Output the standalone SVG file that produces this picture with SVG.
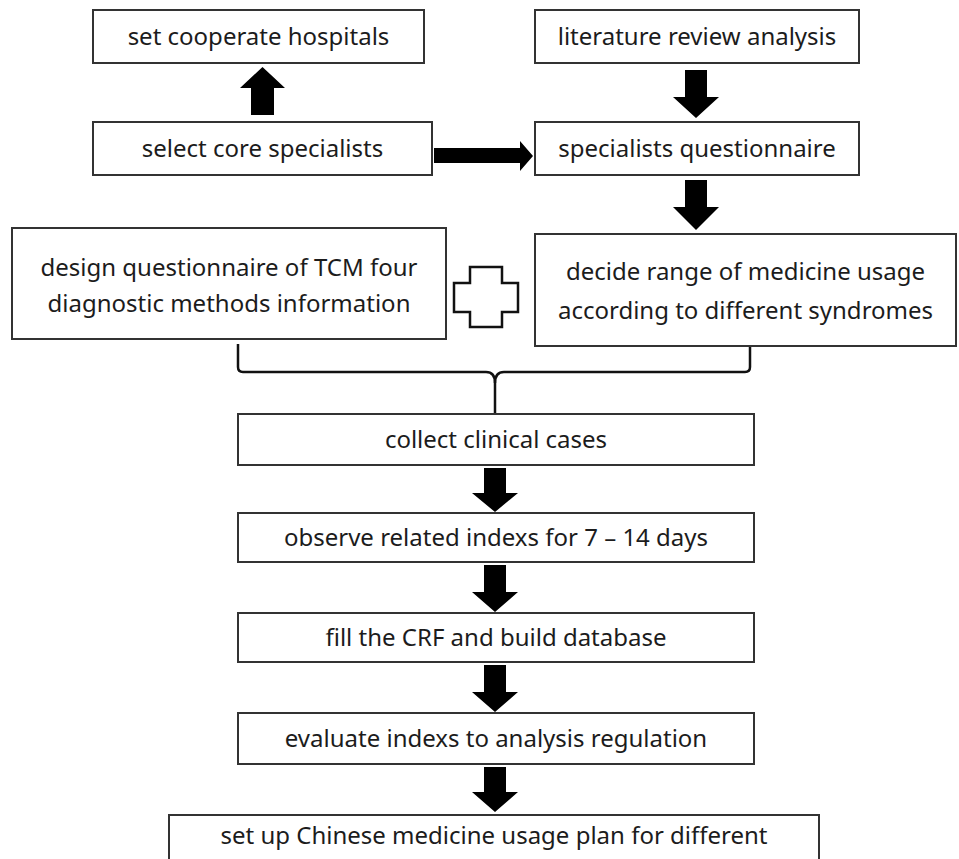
<svg xmlns="http://www.w3.org/2000/svg" width="959" height="859" viewBox="0 0 959 859">
<style>
.box{fill:#fff;stroke:#333;stroke-width:2}
.t{font-family:"Noto Sans","Open Sans","Liberation Sans",sans-serif;font-size:24px;fill:#1c1c1c;text-anchor:middle}
.arr{fill:#000}
.br{fill:none;stroke:#111;stroke-width:2.5}
</style>
<rect width="959" height="859" fill="#fff"/>
<g id="connectors">
<polygon class="arr" points="251,115 274,115 274,88 285,88 262.5,67 240,88 251,88"/>
<polygon class="arr" points="434,148 520,148 520,141 533,156 520,171 520,163 434,163"/>
<polygon class="arr" points="685,70 707,70 707,97 719,97 696,118 673,97 685,97"/>
<polygon class="arr" points="685,180 707,180 707,207 719,207 696,230 673,207 685,207"/>
<path class="br" d="M238,344 V367 Q238,372 243,372 H486 Q495,372 495,383 V413"/>
<path class="br" d="M750,344 V367 Q750,372 745,372 H504 Q495,372 495,383"/>
<polygon class="arr" points="484,468 506,468 506,493 518,493 495,512 472,493 484,493"/>
<polygon class="arr" points="484,565 506,565 506,592 518,592 495,612 472,592 484,592"/>
<polygon class="arr" points="484,665 506,665 506,692 518,692 495,712 472,692 484,692"/>
<polygon class="arr" points="484,767 506,767 506,792 518,792 495,812 472,792 484,792"/>
</g>
<g id="n_hospitals"><rect class="box" x="93" y="10" width="331" height="53"/><text class="t" x="258.5" y="45">set cooperate hospitals</text></g>
<g id="n_core"><rect class="box" x="93" y="122" width="339" height="53"/><text class="t" x="262.5" y="157">select core specialists</text></g>
<g id="n_literature"><rect class="box" x="535" y="10" width="324" height="53"/><text class="t" x="697" y="45">literature review analysis</text></g>
<g id="n_questionnaire"><rect class="box" x="535" y="122" width="324" height="53"/><text class="t" x="697" y="157">specialists questionnaire</text></g>
<g id="n_design"><rect class="box" x="12" y="228" width="434" height="111"/><text class="t" x="229" y="276">design questionnaire of TCM four</text><text class="t" x="229" y="312">diagnostic methods information</text></g>
<g id="plus"><path d="M470,267 H502 V283 H518 V312 H502 V327 H470 V312 H454 V283 H470 Z" fill="#fff" stroke="#111" stroke-width="2.5"/></g>
<g id="n_decide"><rect class="box" x="535" y="234" width="421" height="112"/><text class="t" x="745.5" y="280">decide range of medicine usage</text><text class="t" x="745.5" y="319">according to different syndromes</text></g>
<g id="n_collect"><rect class="box" x="238" y="414" width="516" height="51"/><text class="t" x="496" y="448">collect clinical cases</text></g>
<g id="n_observe"><rect class="box" x="238" y="513" width="516" height="49"/><text class="t" x="496" y="546">observe related indexs for 7 – 14 days</text></g>
<g id="n_fill"><rect class="box" x="238" y="613" width="516" height="49"/><text class="t" x="496" y="646">fill the CRF and build database</text></g>
<g id="n_evaluate"><rect class="box" x="238" y="713" width="516" height="51"/><text class="t" x="496" y="747">evaluate indexs to analysis regulation</text></g>
<g id="n_plan"><rect class="box" x="169" y="815" width="650" height="60"/><text class="t" x="494" y="844">set up Chinese medicine usage plan for different</text></g>
</svg>
